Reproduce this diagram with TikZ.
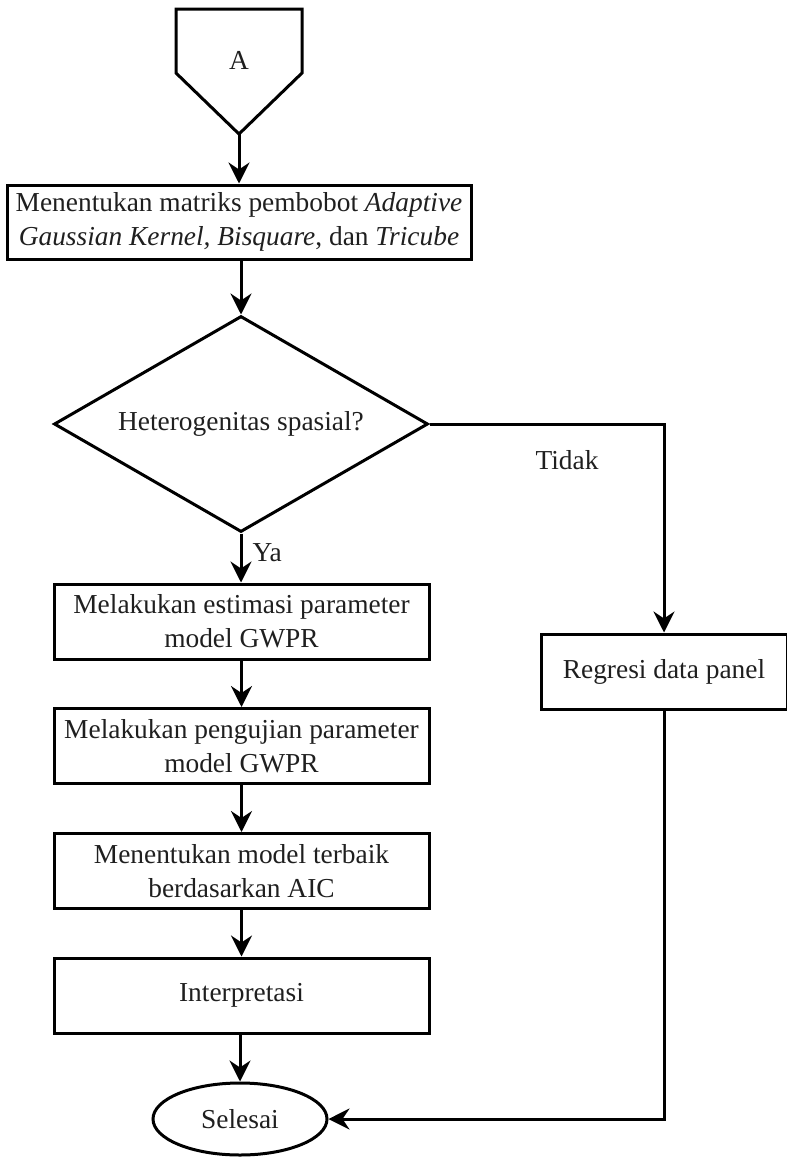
\documentclass[tikz,border=0pt]{standalone}
\usepackage{fontspec}
\setmainfont{Liberation Serif}
\usetikzlibrary{shapes.geometric,arrows.meta}
\begin{document}
\begin{tikzpicture}[x=1pt,y=-1pt,
  every path/.append style={line width=3pt},
  every node/.style={font=\fontsize{27.4}{34}\selectfont, text=black!88},
  proc/.style={draw, rectangle, minimum width=375pt, minimum height=75pt, align=center, inner sep=0pt},
  dia/.style={draw, diamond, minimum width=374pt, minimum height=216pt, aspect=1.73, inner sep=0pt},
  term/.style={draw, ellipse, minimum width=174pt, minimum height=72pt, inner sep=0pt},
  arr/.style={-{Stealth[length=21pt,width=21pt,inset=7pt]}},
  lbl/.style={inner sep=0pt}]
\useasboundingbox (0,0) rectangle (787,1157);
% off-page connector A
\draw (176,9) -- (302,9) -- (302,73) -- (239,134) -- (176,73) -- cycle;
\node[lbl] (A) at (239,60) {A};
\coordinate (Atip) at (239,134);
% nodes
\node[proc, minimum width=464pt, minimum height=74pt] (b1) at (239,222)
  {Menentukan matriks pembobot \textit{Adaptive}\\\textit{Gaussian Kernel, Bisquare}, dan \textit{Tricube}};
\node[dia] (d) at (241,424) {Heterogenitas spasial?};
\node[proc] (b2) at (241.5,621.5) {Melakukan estimasi parameter\\model GWPR};
\node[proc] (b3) at (241.5,746) {Melakukan pengujian parameter\\model GWPR};
\node[proc] (b4) at (241.5,871) {Menentukan model terbaik\\berdasarkan AIC};
\node[proc] (b5) at (241.5,995.5) {Interpretasi};
\node[term] (s) at (240,1119) {Selesai};
\node[proc, minimum width=246pt] (r) at (664,671.5) {Regresi data panel};
\node[lbl, anchor=west] (ya) at (251,553) {Ya};
\node[lbl] (tidak) at (567,460) {Tidak};
% connectors
\draw[arr] (Atip) -- (b1.north);
\draw[arr] (b1.south -| d.north) -- (d.north);
\draw[arr] (d.south) -- (d.south |- b2.north);
\draw[arr] (b2) -- (b3);
\draw[arr] (b3) -- (b4);
\draw[arr] (b4) -- (b5);
\draw[arr] (b5.south -| s.north) -- (s.north);
\draw[arr] (d.east) -| (r.north);
\draw[arr] (r.south) |- (s.east);
\end{tikzpicture}
\end{document}
